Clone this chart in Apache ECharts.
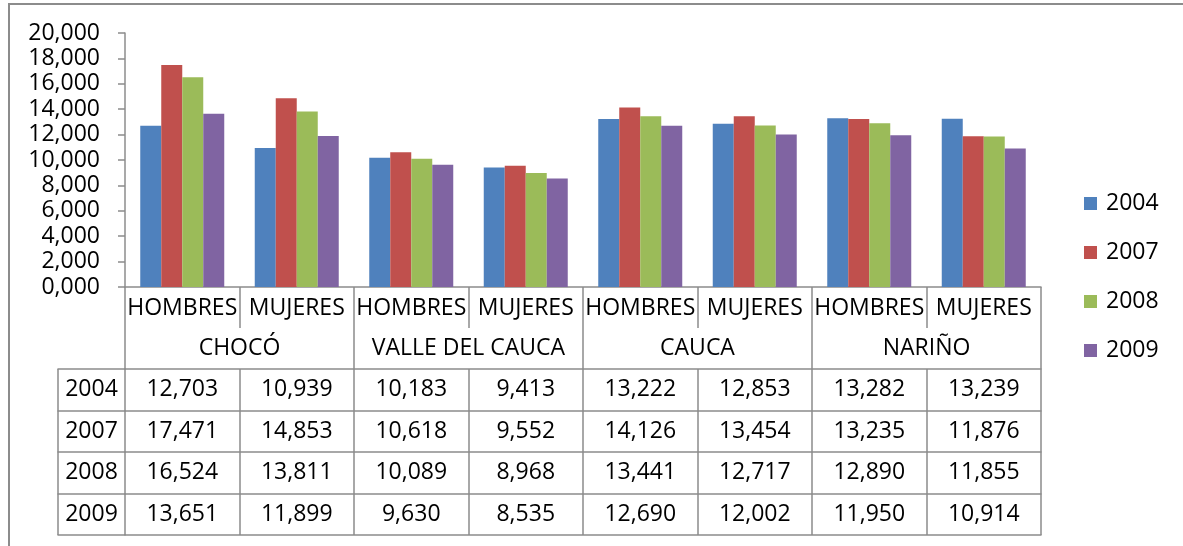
<!DOCTYPE html>
<html>
<head>
<meta charset="utf-8">
<script src="https://cdn.jsdelivr.net/npm/echarts@6/dist/echarts.min.js"></script>
<style>
    body { margin: 0; background: #fff; }
    .wrap { position: relative; width: 1183px; height: 546px; }
    .frame {
        position: absolute; left: 8px; top: 3px; right: 0; bottom: 0;
        border-left: 2px solid #8c8c8c; border-top: 2px solid #8c8c8c;
    }
    #chart { position: absolute; left: 0; top: 0; width: 1183px; height: 546px; }
</style>
</head>
<body>
<div class="wrap">
    <div class="frame"></div>
    <div id="chart"></div>
</div>
<script>
// categorias (departamento / sexo)
const groups = ['CHOCÓ', 'VALLE DEL CAUCA', 'CAUCA', 'NARIÑO']
const subCats = ['HOMBRES', 'MUJERES', 'HOMBRES', 'MUJERES', 'HOMBRES', 'MUJERES', 'HOMBRES', 'MUJERES']
const years = ['2004', '2007', '2008', '2009']
const colorList = ['#4F81BD', '#C0504D', '#9BBB59', '#8064A2']

// valores por año
const v2004 = [12.703, 10.939, 10.183, 9.413, 13.222, 12.853, 13.282, 13.239]
const v2007 = [17.471, 14.853, 10.618, 9.552, 14.126, 13.454, 13.235, 11.876]
const v2008 = [16.524, 13.811, 10.089, 8.968, 13.441, 12.717, 12.890, 11.855]
const v2009 = [13.651, 11.899, 9.630, 8.535, 12.690, 12.002, 11.950, 10.914]
const seriesValues = [v2004, v2007, v2008, v2009]

const yTicks = { min: 0, max: 20, interval: 2 }

const FONT = 'Open Sans'
const FS = 23
const lineColor = '#8c8c8c'
const rowH = 41.5
// offset of each horizontal table line below the category axis
const rowOffsets = [82, 123.5, 165, 206.5, 248]

const fmt = (v) => v.toFixed(3).replace('.', ',')

const lineStyle = { color: lineColor, width: 1.5 }
const txt = { fontFamily: FONT, fontSize: FS, color: '#000' }

const xAxes = []
// fila 1: HOMBRES / MUJERES
xAxes.push({
    type: 'category', gridIndex: 0, position: 'bottom', data: subCats,
    axisLine: { show: true, onZero: false, lineStyle },
    axisTick: { show: true, interval: 0, length: 41, lineStyle },
    axisLabel: { interval: 0, margin: 21, verticalAlign: 'middle', ...txt }
})
// fila 2: departamentos
xAxes.push({
    type: 'category', gridIndex: 0, position: 'bottom', offset: 41, data: groups,
    axisLine: { show: false, onZero: false },
    axisTick: { show: true, interval: 0, length: 41, lineStyle },
    axisLabel: { interval: 0, margin: 20.5, verticalAlign: 'middle', ...txt }
})
// tabla de datos
seriesValues.forEach((vals, r) => {
    xAxes.push({
        type: 'category', gridIndex: 0, position: 'bottom', offset: rowOffsets[r], data: subCats,
        axisLine: { show: true, onZero: false, lineStyle },
        axisTick: { show: true, interval: 0, length: rowH, lineStyle },
        axisLabel: { interval: 0, margin: rowH / 2, verticalAlign: 'middle', ...txt,
            formatter: (v, i) => fmt(vals[i]) }
    })
    // columna de años
    xAxes.push({
        type: 'category', gridIndex: 1, position: 'bottom', offset: rowOffsets[r], data: [years[r]],
        axisLine: { show: true, onZero: false, lineStyle },
        axisTick: { show: true, interval: 0, length: rowH, lineStyle },
        axisLabel: { interval: 0, margin: rowH / 2, verticalAlign: 'middle', ...txt }
    })
})
// línea inferior de la tabla
xAxes.push({
    type: 'category', gridIndex: 0, position: 'bottom', offset: rowOffsets[4], data: subCats,
    axisLine: { show: true, onZero: false, lineStyle }, axisTick: { show: false }, axisLabel: { show: false }
})
xAxes.push({
    type: 'category', gridIndex: 1, position: 'bottom', offset: rowOffsets[4], data: [''],
    axisLine: { show: true, onZero: false, lineStyle }, axisTick: { show: false }, axisLabel: { show: false }
})

const chart = echarts.init(document.getElementById('chart'))
chart.setOption({
    animation: false,
    color: colorList,
    grid: [
        { left: 125, top: 33, width: 916, height: 254, containLabel: false },
        { left: 58, top: 33, width: 67, height: 254, containLabel: false }
    ],
    legend: {
        orient: 'vertical', left: 1084, top: 192, padding: 0,
        icon: 'rect', itemWidth: 13, itemHeight: 13, itemGap: 26,
        textStyle: { ...txt, padding: [0, 0, 0, 4] },
        data: years
    },
    xAxis: xAxes,
    yAxis: [{
        type: 'value', gridIndex: 0, ...yTicks,
        axisLine: { show: true, lineStyle },
        axisTick: { show: true, length: 7, lineStyle },
        splitLine: { show: false },
        axisLabel: { margin: 25, ...txt, formatter: (v) => fmt(v) }
    }, {
        type: 'value', gridIndex: 1, ...yTicks, show: false
    }],
    series: seriesValues.map((vals, i) => ({
        name: years[i],
        type: 'bar',
        xAxisIndex: 0,
        yAxisIndex: 0,
        data: vals,
        barWidth: 21,
        barGap: '0%'
    }))
})
</script>
</body>
</html>
